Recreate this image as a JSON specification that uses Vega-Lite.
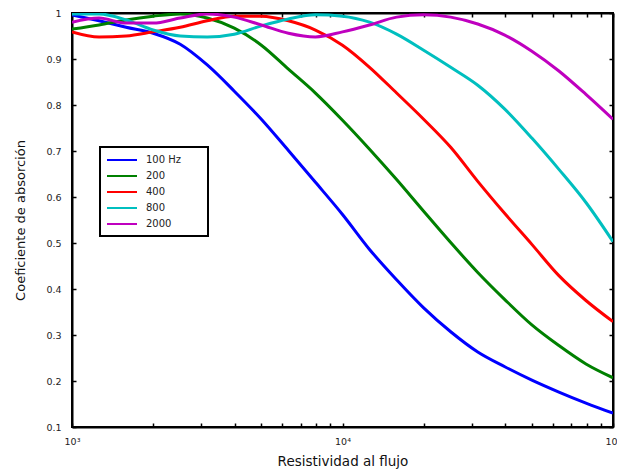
{
  "$schema": "https://vega.github.io/schema/vega-lite/v6.json",
  "width": 541,
  "height": 414,
  "autosize": {"type": "none"},
  "padding": {"left": 72, "top": 13, "right": 4, "bottom": 45},
  "config": {
    "font": "DejaVu Sans",
    "view": {"stroke": "black", "strokeWidth": 2},
    "legend": {"strokeWidth": 2},
    "axis": {
      "grid": false,
      "domainColor": "black",
      "domainWidth": 2,
      "tickColor": "black",
      "tickWidth": 1.5,
      "tickSize": -4,
      "labelFont": "DejaVu Sans",
      "labelFontSize": 9.5,
      "labelColor": "#222",
      "titleFont": "DejaVu Sans",
      "titleFontSize": 13,
      "titleFontWeight": "normal",
      "titleColor": "#111"
    }
  },
  "data": {
    "values": [
      {"r": 1000, "a": 0.996, "f": "100 Hz"}, {"r": 1259, "a": 0.983, "f": "100 Hz"}, {"r": 1585, "a": 0.969, "f": "100 Hz"}, {"r": 1995, "a": 0.956, "f": "100 Hz"}, {"r": 2512, "a": 0.932, "f": "100 Hz"}, {"r": 3162, "a": 0.887, "f": "100 Hz"}, {"r": 3981, "a": 0.830, "f": "100 Hz"}, {"r": 5012, "a": 0.769, "f": "100 Hz"}, {"r": 6310, "a": 0.701, "f": "100 Hz"}, {"r": 7943, "a": 0.632, "f": "100 Hz"}, {"r": 10000, "a": 0.562, "f": "100 Hz"}, {"r": 12589, "a": 0.486, "f": "100 Hz"}, {"r": 15849, "a": 0.420, "f": "100 Hz"}, {"r": 19953, "a": 0.359, "f": "100 Hz"}, {"r": 25119, "a": 0.307, "f": "100 Hz"}, {"r": 31623, "a": 0.263, "f": "100 Hz"}, {"r": 39811, "a": 0.231, "f": "100 Hz"}, {"r": 50119, "a": 0.202, "f": "100 Hz"}, {"r": 63096, "a": 0.176, "f": "100 Hz"}, {"r": 79433, "a": 0.152, "f": "100 Hz"}, {"r": 100000, "a": 0.130, "f": "100 Hz"},
      {"r": 1000, "a": 0.965, "f": "200"}, {"r": 1259, "a": 0.974, "f": "200"}, {"r": 1585, "a": 0.985, "f": "200"}, {"r": 1995, "a": 0.993, "f": "200"}, {"r": 2512, "a": 0.998, "f": "200"}, {"r": 3162, "a": 0.989, "f": "200"}, {"r": 3981, "a": 0.967, "f": "200"}, {"r": 5012, "a": 0.930, "f": "200"}, {"r": 6310, "a": 0.878, "f": "200"}, {"r": 7943, "a": 0.826, "f": "200"}, {"r": 10000, "a": 0.767, "f": "200"}, {"r": 12589, "a": 0.704, "f": "200"}, {"r": 15849, "a": 0.638, "f": "200"}, {"r": 19953, "a": 0.569, "f": "200"}, {"r": 25119, "a": 0.501, "f": "200"}, {"r": 31623, "a": 0.436, "f": "200"}, {"r": 39811, "a": 0.377, "f": "200"}, {"r": 50119, "a": 0.322, "f": "200"}, {"r": 63096, "a": 0.277, "f": "200"}, {"r": 79433, "a": 0.237, "f": "200"}, {"r": 100000, "a": 0.207, "f": "200"},
      {"r": 1000, "a": 0.959, "f": "400"}, {"r": 1259, "a": 0.948, "f": "400"}, {"r": 1585, "a": 0.950, "f": "400"}, {"r": 1995, "a": 0.959, "f": "400"}, {"r": 2512, "a": 0.969, "f": "400"}, {"r": 3162, "a": 0.983, "f": "400"}, {"r": 3981, "a": 0.993, "f": "400"}, {"r": 5012, "a": 0.993, "f": "400"}, {"r": 6310, "a": 0.983, "f": "400"}, {"r": 7943, "a": 0.963, "f": "400"}, {"r": 10000, "a": 0.930, "f": "400"}, {"r": 12589, "a": 0.882, "f": "400"}, {"r": 15849, "a": 0.826, "f": "400"}, {"r": 19953, "a": 0.769, "f": "400"}, {"r": 25119, "a": 0.708, "f": "400"}, {"r": 31623, "a": 0.634, "f": "400"}, {"r": 39811, "a": 0.564, "f": "400"}, {"r": 50119, "a": 0.497, "f": "400"}, {"r": 63096, "a": 0.429, "f": "400"}, {"r": 79433, "a": 0.375, "f": "400"}, {"r": 100000, "a": 0.329, "f": "400"},
      {"r": 1000, "a": 0.998, "f": "800"}, {"r": 1259, "a": 0.998, "f": "800"}, {"r": 1585, "a": 0.985, "f": "800"}, {"r": 1995, "a": 0.963, "f": "800"}, {"r": 2512, "a": 0.950, "f": "800"}, {"r": 3162, "a": 0.948, "f": "800"}, {"r": 3981, "a": 0.954, "f": "800"}, {"r": 5012, "a": 0.972, "f": "800"}, {"r": 6310, "a": 0.987, "f": "800"}, {"r": 7943, "a": 0.996, "f": "800"}, {"r": 10000, "a": 0.993, "f": "800"}, {"r": 12589, "a": 0.980, "f": "800"}, {"r": 15849, "a": 0.954, "f": "800"}, {"r": 19953, "a": 0.919, "f": "800"}, {"r": 25119, "a": 0.882, "f": "800"}, {"r": 31623, "a": 0.843, "f": "800"}, {"r": 39811, "a": 0.791, "f": "800"}, {"r": 50119, "a": 0.728, "f": "800"}, {"r": 63096, "a": 0.660, "f": "800"}, {"r": 79433, "a": 0.588, "f": "800"}, {"r": 100000, "a": 0.503, "f": "800"},
      {"r": 1000, "a": 0.980, "f": "2000"}, {"r": 1259, "a": 0.989, "f": "2000"}, {"r": 1585, "a": 0.978, "f": "2000"}, {"r": 1995, "a": 0.978, "f": "2000"}, {"r": 2512, "a": 0.989, "f": "2000"}, {"r": 3162, "a": 0.998, "f": "2000"}, {"r": 3981, "a": 0.991, "f": "2000"}, {"r": 5012, "a": 0.974, "f": "2000"}, {"r": 6310, "a": 0.956, "f": "2000"}, {"r": 7943, "a": 0.948, "f": "2000"}, {"r": 10000, "a": 0.959, "f": "2000"}, {"r": 12589, "a": 0.974, "f": "2000"}, {"r": 15849, "a": 0.991, "f": "2000"}, {"r": 19953, "a": 0.996, "f": "2000"}, {"r": 25119, "a": 0.991, "f": "2000"}, {"r": 31623, "a": 0.976, "f": "2000"}, {"r": 39811, "a": 0.952, "f": "2000"}, {"r": 50119, "a": 0.917, "f": "2000"}, {"r": 63096, "a": 0.874, "f": "2000"}, {"r": 79433, "a": 0.823, "f": "2000"}, {"r": 100000, "a": 0.769, "f": "2000"}
    ]
  },
  "layer": [
    {
      "mark": {"type": "line", "strokeWidth": 3, "interpolate": "monotone", "clip": true},
      "encoding": {
        "x": {
          "field": "r", "type": "quantitative",
          "scale": {"type": "log", "domain": [1000, 100000], "nice": false},
          "axis": {
            "orient": "bottom",
            "title": "Resistividad al flujo",
            "titlePadding": 9,
            "titleFontSize": 13.5,
            "values": [1000, 2000, 3000, 4000, 5000, 6000, 7000, 8000, 9000, 10000, 20000, 30000, 40000, 50000, 60000, 70000, 80000, 90000, 100000],
            "labelExpr": "datum.value == 1000 ? '10³' : datum.value == 10000 ? '10⁴' : datum.value == 100000 ? '10⁵' : ''",
            "labelPadding": 13,
            "labelFlush": false
          }
        },
        "y": {
          "field": "a", "type": "quantitative",
          "scale": {"domain": [0.1, 1], "nice": false, "zero": false},
          "axis": {
            "orient": "left",
            "title": "Coeficiente de absorción",
            "titlePadding": 18,
            "values": [0.1, 0.2, 0.3, 0.4, 0.5, 0.6, 0.7, 0.8, 0.9, 1],
            "labelExpr": "datum.value == 1 ? '1' : format(datum.value, '.1f')",
            "labelPadding": 15
          }
        },
        "color": {
          "field": "f", "type": "nominal",
          "scale": {"domain": ["100 Hz", "200", "400", "800", "2000"], "range": ["#0000ff", "#008000", "#ff0000", "#00bfbf", "#bf00bf"]},
          "legend": {
            "title": "\u00a0",
            "titleOrient": "right",
            "titlePadding": 20,
            "titleFontSize": 10,
            "orient": "none",
            "legendX": 28,
            "legendY": 134,
            "padding": 7,
            "strokeColor": "black",
            "fillColor": "white",
            "symbolType": "M-3,0H3",
            "symbolSize": 100,
            "symbolStrokeWidth": 2,
            "symbolFillColor": "transparent",
            "symbolOffset": 9,
            "labelFontSize": 10,
            "labelFont": "DejaVu Sans",
            "labelColor": "#222",
            "labelOffset": 18,
            "rowPadding": 5
          }
        }
      }
    },
    {
      "mark": {"type": "line", "opacity": 0},
      "encoding": {
        "x": {
          "field": "r", "type": "quantitative",
          "scale": {"type": "log", "domain": [1000, 100000], "nice": false},
          "axis": {
            "orient": "top", "title": null, "labels": false,
            "values": [1000, 2000, 3000, 4000, 5000, 6000, 7000, 8000, 9000, 10000, 20000, 30000, 40000, 50000, 60000, 70000, 80000, 90000, 100000]
          }
        },
        "y": {
          "field": "a", "type": "quantitative",
          "scale": {"domain": [0.1, 1], "nice": false, "zero": false},
          "axis": {
            "orient": "right", "title": null, "labels": false,
            "values": [0.1, 0.2, 0.3, 0.4, 0.5, 0.6, 0.7, 0.8, 0.9, 1]
          }
        }
      }
    }
  ],
  "resolve": {"axis": {"x": "independent", "y": "independent"}}
}
